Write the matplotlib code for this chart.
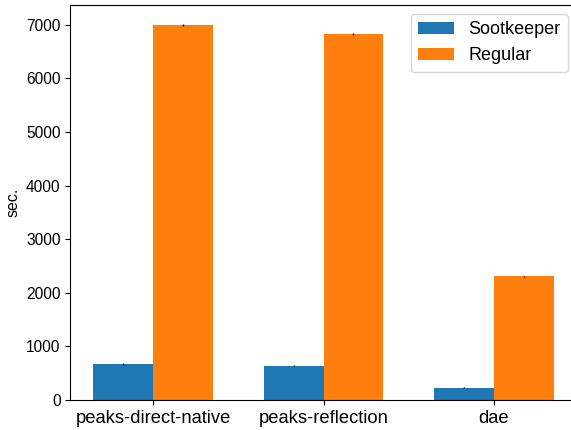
import matplotlib
matplotlib.use("Agg")
import matplotlib.pyplot as plt
import numpy as np

plt.rcParams['font.family'] = ['Liberation Sans', 'DejaVu Sans']

categories = ["peaks-direct-native", "peaks-reflection", "dae"]
sootkeeper = [670, 640, 230]
sootkeeper_err = [15, 12, 8]
regular = [7000, 6830, 2310]
regular_err = [20, 15, 12]

fig = plt.figure(figsize=(5.71, 4.30), dpi=100)
ax = fig.add_axes([70.3/571, 1-400/430, 506.4/571, (400-5)/430])

x = np.arange(len(categories))
w = 0.35
ax.bar(x - w/2, sootkeeper, w, yerr=sootkeeper_err, color='#1f77b4', label='Sootkeeper',
       error_kw=dict(elinewidth=1, ecolor='black'))
ax.bar(x + w/2, regular, w, yerr=regular_err, color='#ff7f0e', label='Regular',
       error_kw=dict(elinewidth=1, ecolor='black'))

ax.set_xticks(x)
ax.set_xticklabels(categories, fontsize=13.2)
ax.tick_params(axis='y', labelsize=11.2)
ax.set_ylabel('sec.', fontsize=11.5)
ax.spines['right'].set_visible(False)
ax.legend(fontsize=13, loc='upper right')

fig.savefig('out.png', dpi=100)
